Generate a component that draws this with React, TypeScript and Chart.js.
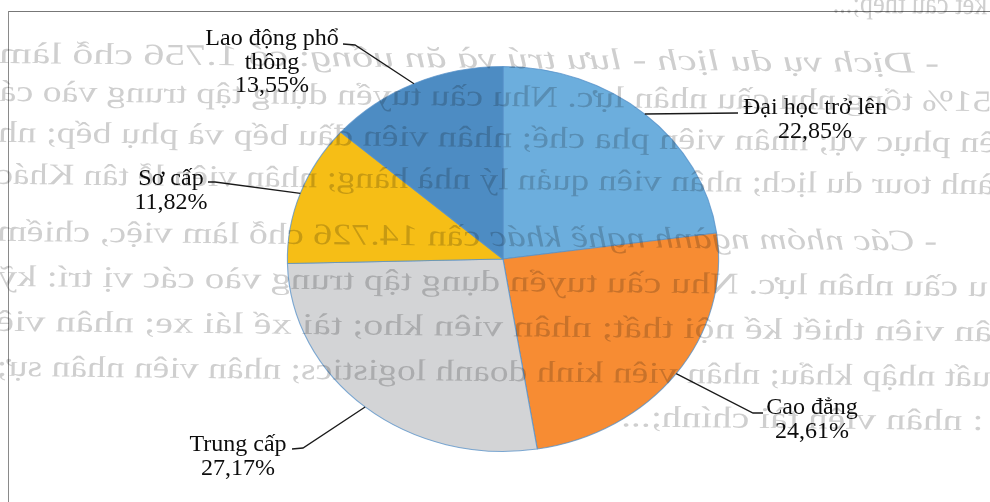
import React, { useEffect, useRef } from "react";
import { Chart, registerables } from "chart.js";

Chart.register(...registerables);

// Cơ cấu nhu cầu nhân lực theo trình độ (%)
const categories = ["Đại học trở lên", "Cao đẳng", "Trung cấp", "Sơ cấp", "Lao động phổ\nthông"];
const shares = [22.85, 24.61, 27.17, 11.82, 13.55];
const sliceColors = ["#6CAEDD", "#F78C33", "#D3D4D6", "#F6BE16", "#4D8CC3"];

// Horizontal stretch of the pie (the chart is drawn as a slightly wide oval)
const SX = 1.12;

// Callout placement: first text baseline (centred on x) and the leader-line bend points
const callouts = [
  { x: 815, y: 114, path: [[738, 113]] },
  { x: 812, y: 414, path: [[753, 413], [763, 413]] },
  { x: 238, y: 451, path: [[303, 448], [292, 449]] },
  { x: 171, y: 185, path: [[215, 182], [208, 182]] },
  { x: 272, y: 45, path: [[355, 45], [343, 44]] },
];
const LABEL_FONT = "24px 'Liberation Serif', 'Times New Roman', serif";
const LABEL_LINE = 23.5;

// Text of the facing page that shows through the paper (mirrored):
// each line runs from x0 (its first letter, on the right) to x1 (its last letter)
const pageLines = [
  { x0: 985, x1: 830, y: 9, italic: "", text: "kết cấu thép;..." },
  { x0: 937, x1: -3, y: 68, italic: "- Dịch vụ du lịch - lưu trú và ăn uống", text: ": có 1.756 chỗ làm" },
  { x0: 990, x1: -2, y: 106, italic: "", text: "51% tổng nhu cầu nhân lực. Nhu cầu tuyển dụng tập trung vào cá" },
  { x0: 995, x1: -3, y: 147, italic: "", text: "ên phục vụ; nhân viên pha chế; nhân viên đầu bếp và phụ bếp; nh" },
  { x0: 993, x1: -4, y: 189, italic: "", text: "ành tour du lịch; nhân viên quản lý nhà hàng; nhân viên lễ tân Khác" },
  { x0: 937, x1: -3, y: 246, italic: "- Các nhóm ngành nghề khác", text: " cần 14.726 chỗ làm việc, chiếm" },
  { x0: 988, x1: -2, y: 291, italic: "", text: "u cầu nhân lực. Nhu cầu tuyển dụng tập trung vào các vị trí: kỹ" },
  { x0: 993, x1: -3, y: 336, italic: "", text: "ân viên thiết kế nội thất; nhân viên kho; tài xế lái xe; nhân viê" },
  { x0: 992, x1: -2, y: 381, italic: "", text: "uất nhập khẩu; nhân viên kinh doanh logistics; nhân viên nhân sự;" },
  { x0: 985, x1: 623, y: 425, italic: "", text: ": nhân viên tài chính;..." },
];

const formatShare = (v: number) => v.toFixed(2).replace(".", ",") + "%";

const ovalPie = {
  id: "ovalPie",
  beforeDatasetsDraw(chart: any) {
    const arc = chart.getDatasetMeta(0).data[0];
    const ctx = chart.ctx;
    ctx.save();
    ctx.translate(arc.x, arc.y);
    ctx.scale(SX, 1);
    ctx.translate(-arc.x, -arc.y);
  },
  afterDatasetsDraw(chart: any) {
    chart.ctx.restore();
  },
};

const calloutLabels = {
  id: "calloutLabels",
  afterDraw(chart: any) {
    const ctx = chart.ctx;
    const meta = chart.getDatasetMeta(0);
    const labels = chart.data.labels as string[];
    const values = chart.data.datasets[0].data as number[];
    meta.data.forEach((arc: any, i: number) => {
      const c = callouts[i];
      const mid = (arc.startAngle + arc.endAngle) / 2;
      const ex = arc.x + Math.cos(mid) * arc.outerRadius * SX;
      const ey = arc.y + Math.sin(mid) * arc.outerRadius;
      ctx.save();
      ctx.strokeStyle = "#1a1a1a";
      ctx.lineWidth = 1.3;
      ctx.beginPath();
      ctx.moveTo(ex, ey);
      c.path.forEach(([px, py]) => ctx.lineTo(px, py));
      ctx.stroke();
      const lines = [...labels[i].split("\n"), formatShare(values[i])];
      ctx.fillStyle = "#0d0d0d";
      ctx.font = LABEL_FONT;
      ctx.textAlign = "center";
      ctx.textBaseline = "alphabetic";
      lines.forEach((t, k) => ctx.fillText(t, c.x, c.y + k * LABEL_LINE));
      ctx.restore();
    });
  },
};

export default function App() {
  const canvasRef = useRef<HTMLCanvasElement | null>(null);

  useEffect(() => {
    if (!canvasRef.current) return;
    const chart = new Chart(canvasRef.current, {
      type: "pie",
      data: {
        labels: categories,
        datasets: [
          {
            data: shares,
            backgroundColor: sliceColors,
            borderColor: "rgba(86,144,200,0.75)",
            borderWidth: 1,
          },
        ],
      },
      options: {
        responsive: false,
        animation: false,
        devicePixelRatio: 1,
        events: [],
        layout: { padding: { top: 66, bottom: 50, left: 310, right: 294 } },
        plugins: {
          legend: { display: false },
          tooltip: { enabled: false },
        },
      },
      plugins: [ovalPie, calloutLabels],
    });
    return () => chart.destroy();
  }, []);

  return (
    <div
      style={{
        position: "fixed",
        left: 0,
        top: 0,
        width: 990,
        height: 502,
        background: "#ffffff",
        overflow: "hidden",
      }}
    >
      <canvas ref={canvasRef} width={990} height={502} style={{ position: "absolute", left: 0, top: 0 }} />
      <div style={{ position: "absolute", left: 8, top: 11, width: 982, height: 1, background: "#777" }} />
      <div style={{ position: "absolute", left: 8, top: 11, width: 1, height: 491, background: "#8a8a8a" }} />
      <svg
        width={990}
        height={502}
        style={{ position: "absolute", left: 0, top: 0, mixBlendMode: "multiply", pointerEvents: "none" }}
      >
        <g
          transform="rotate(0.6 495 250) translate(990 0) scale(-1 1)"
          fill="#cfcfcf"
          fontFamily="'Liberation Serif', 'Times New Roman', serif"
          fontSize={30}
        >
          {pageLines.map((l, i) => (
            <text
              key={i}
              x={990 - l.x0}
              y={l.y}
              textLength={l.x0 - l.x1}
              lengthAdjust="spacingAndGlyphs"
            >
              {l.italic ? <tspan fontStyle="italic">{l.italic}</tspan> : null}
              {l.text}
            </text>
          ))}
        </g>
      </svg>
    </div>
  );
}
